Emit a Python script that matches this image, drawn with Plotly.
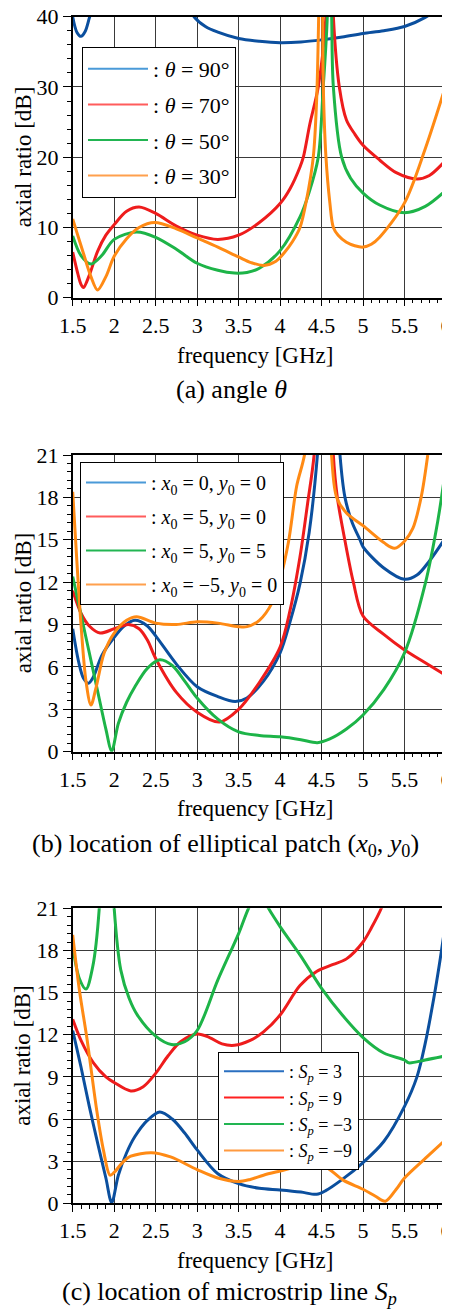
import plotly.graph_objects as go

FONT = "Liberation Serif"

# ---------------- Panel (a): angle theta ----------------
a_t90_x = [1.5, 1.55, 1.6, 1.65, 1.7, 1.8, 2.0, 2.5, 2.8, 2.95, 3.1, 3.25, 3.5, 3.75, 4.0, 4.25, 4.5, 4.75, 5.0, 5.25, 5.5, 5.75, 6.0]
a_t90_y = [40.0, 37.8, 37.2, 37.9, 39.8, 44, 50, 52, 45, 40.2, 38.6, 37.8, 36.9, 36.5, 36.3, 36.4, 36.7, 37.1, 37.6, 38.0, 38.6, 39.9, 42]

a_t70_x = [1.5, 1.56, 1.6, 1.63, 1.7, 1.8, 1.9, 2.0, 2.15, 2.3, 2.5, 2.75, 3.0, 3.25, 3.5, 3.75, 4.0, 4.12, 4.24, 4.28, 4.36, 4.46, 4.553, 4.6, 4.642, 4.714, 4.8, 4.9, 5.0, 5.2, 5.4, 5.65, 5.8, 6.0]
a_t70_y = [6.5, 3.5, 1.9, 1.45, 3.2, 6.6, 8.9, 10.4, 12.3, 12.9, 12.0, 10.2, 8.9, 8.3, 8.9, 10.7, 13.4, 15.5, 18.6, 20.0, 24.8, 30.0, 40.0, 60.0, 40.0, 30.0, 25.3, 23.3, 21.7, 19.6, 17.8, 16.9, 17.4, 19.6]

a_t50_x = [1.5, 1.6, 1.72, 1.85, 2.0, 2.27, 2.5, 2.75, 3.0, 3.25, 3.45, 3.6, 3.75, 4.0, 4.24, 4.35, 4.46, 4.52, 4.569, 4.595, 4.622, 4.642, 4.742, 4.85, 5.0, 5.2, 5.5, 5.75, 6.0]
a_t50_y = [8.8, 6.0, 4.8, 6.0, 8.3, 9.35, 8.6, 6.9, 4.9, 3.9, 3.5, 3.6, 4.2, 6.7, 11.5, 15.0, 20.0, 30.0, 40.0, 60.0, 40.0, 30.0, 20.0, 17.0, 14.9, 13.2, 12.1, 13.0, 15.3]

a_t30_x = [1.5, 1.55, 1.63, 1.72, 1.8, 1.9, 2.0, 2.15, 2.3, 2.49, 2.75, 3.0, 3.25, 3.5, 3.65, 3.8, 3.95, 4.05, 4.15, 4.24, 4.32, 4.4, 4.44, 4.465, 4.49, 4.513, 4.521, 4.553, 4.6, 4.642, 4.7, 4.8, 4.9, 5.0, 5.1, 5.2, 5.5, 5.75, 6.0]
a_t30_y = [11.2, 9.3, 6.3, 3.0, 1.1, 3.0, 5.9, 8.4, 10.0, 10.7, 9.8, 8.5, 7.2, 5.8, 5.0, 4.6, 5.2, 6.4, 8.0, 10.0, 14.0, 20.0, 28.0, 40.0, 65.0, 40.0, 30.0, 20.0, 13.5, 10.0, 8.9, 7.9, 7.4, 7.2, 7.6, 8.6, 13.5, 21.2, 30.3]

a_names = [": <i>θ</i> = 90°", ": <i>θ</i> = 70°", ": <i>θ</i> = 50°", ": <i>θ</i> = 30°"]

# ---------------- Panel (b): location of elliptical patch ----------------
b_00_x = [1.5, 1.57, 1.63, 1.69, 1.75, 1.85, 2.0, 2.12, 2.25, 2.4, 2.5, 2.75, 3.0, 3.25, 3.46, 3.6, 3.8, 4.0, 4.12, 4.24, 4.35, 4.45, 4.52, 4.6, 4.68, 4.722, 4.782, 4.87, 4.963, 5.0, 5.25, 5.5, 5.65, 5.8, 6.0]
b_00_y = [8.7, 6.4, 5.2, 4.85, 5.3, 6.8, 8.1, 8.9, 9.3, 8.9, 8.2, 6.2, 4.6, 3.9, 3.55, 3.8, 5.0, 7.0, 9.2, 11.9, 15.5, 21.0, 28.0, 40.0, 26.0, 21.0, 18.0, 16.2, 15.0, 14.5, 13.0, 12.2, 12.5, 13.5, 15.2]

b_50_x = [1.5, 1.6, 1.7, 1.83, 2.0, 2.17, 2.3, 2.4, 2.5, 2.75, 3.0, 3.27, 3.5, 3.75, 4.0, 4.12, 4.24, 4.33, 4.41, 4.5, 4.55, 4.6, 4.642, 4.69, 4.78, 4.883, 5.0, 5.25, 5.5, 5.75, 6.0]
b_50_y = [11.4, 9.8, 8.9, 8.4, 8.7, 9.0, 8.7, 7.9, 6.6, 4.2, 2.8, 2.1, 3.0, 4.9, 7.4, 10.0, 13.8, 17.5, 21.0, 30.0, 40.0, 30.0, 21.0, 18.0, 15.0, 12.0, 9.6, 8.3, 7.2, 6.3, 5.4]

b_55_x = [1.5, 1.6, 1.7, 1.8, 1.9, 1.97, 2.05, 2.15, 2.25, 2.4, 2.55, 2.7, 2.85, 3.0, 3.25, 3.5, 3.75, 4.0, 4.25, 4.45, 4.6, 4.8, 5.0, 5.25, 5.5, 5.75, 5.9, 6.0]
b_55_y = [12.4, 9.7, 7.0, 4.3, 1.6, 0.05, 2.0, 3.5, 4.6, 5.9, 6.5, 6.1, 5.0, 3.8, 2.3, 1.4, 1.15, 1.05, 0.85, 0.64, 0.9, 1.6, 2.6, 4.4, 7.0, 11.9, 16.3, 20.2]

b_m50_x = [1.5, 1.55, 1.6, 1.66, 1.72, 1.78, 1.88, 2.0, 2.15, 2.27, 2.5, 2.75, 3.0, 3.25, 3.5, 3.6, 3.75, 3.9, 4.0, 4.1, 4.2, 4.3, 4.38, 4.46, 4.55, 4.62, 4.682, 4.8, 5.0, 5.25, 5.38, 5.5, 5.6, 5.7, 5.78]
b_m50_y = [18.4, 13.5, 9.0, 5.0, 3.3, 4.5, 7.0, 8.4, 9.3, 9.55, 9.1, 9.0, 9.2, 9.1, 8.85, 8.85, 9.3, 10.5, 12.2, 14.8, 18.8, 21.2, 28.0, 40.0, 30.0, 21.0, 18.0, 16.9, 16.0, 14.8, 14.4, 14.9, 15.8, 18.0, 21.0]

b_names = [": <i>x</i><sub>0</sub> = 0, <i>y</i><sub>0</sub> = 0",
           ": <i>x</i><sub>0</sub> = 5, <i>y</i><sub>0</sub> = 0",
           ": <i>x</i><sub>0</sub> = 5, <i>y</i><sub>0</sub> = 5",
           ": <i>x</i><sub>0</sub> = −5, <i>y</i><sub>0</sub> = 0"]

# ---------------- Panel (c): location of microstrip line Sp ----------------
c_p3_x = [1.5, 1.6, 1.7, 1.8, 1.9, 1.97, 2.05, 2.15, 2.25, 2.4, 2.55, 2.7, 2.85, 3.0, 3.25, 3.5, 3.75, 4.0, 4.25, 4.44, 4.55, 4.75, 5.0, 5.25, 5.5, 5.65, 5.75, 5.85, 5.92, 6.0]
c_p3_y = [12.3, 9.7, 6.9, 4.3, 1.8, 0.05, 2.0, 3.6, 4.75, 5.9, 6.5, 6.0, 5.0, 3.8, 2.1, 1.4, 1.07, 0.95, 0.8, 0.64, 0.9, 1.7, 2.9, 4.4, 6.9, 9.0, 11.4, 14.5, 17.0, 20.2]

c_p9_x = [1.5, 1.6, 1.75, 1.9, 2.0, 2.2, 2.35, 2.5, 2.65, 2.8, 3.0, 3.15, 3.3, 3.45, 3.64, 3.8, 4.0, 4.24, 4.44, 4.64, 4.8, 5.0, 5.1, 5.22, 5.3]
c_p9_y = [13.1, 11.6, 10.0, 9.0, 8.6, 8.0, 8.3, 9.25, 10.5, 11.5, 12.05, 11.8, 11.35, 11.25, 11.6, 12.2, 13.4, 15.5, 16.5, 17.0, 17.4, 18.6, 19.6, 21.0, 22.5]

c_m3_x = [1.5, 1.58, 1.66, 1.74, 1.82, 1.86, 1.9, 1.95, 2.0, 2.08, 2.18, 2.28, 2.5, 2.69, 2.85, 3.0, 3.25, 3.5, 3.62, 3.74, 3.86, 4.0, 4.25, 4.5, 4.75, 5.0, 5.25, 5.5, 5.55, 5.75, 6.0]
c_m3_y = [18.3, 16.0, 15.25, 16.8, 21.0, 28.0, 40.0, 28.0, 21.0, 16.6, 14.6, 13.4, 11.9, 11.3, 11.5, 12.3, 15.9, 19.2, 21.0, 22.3, 21.0, 19.7, 17.6, 15.3, 13.4, 11.8, 10.7, 10.2, 10.0, 10.2, 10.5]

c_m9_x = [1.5, 1.58, 1.67, 1.79, 1.87, 1.95, 2.0, 2.1, 2.2, 2.45, 2.68, 3.0, 3.25, 3.5, 3.64, 3.8, 4.0, 4.24, 4.44, 4.55, 4.76, 5.0, 5.15, 5.27, 5.4, 5.5, 5.77, 6.0]
c_m9_y = [19.1, 15.2, 11.8, 6.6, 3.8, 2.0, 2.2, 2.9, 3.35, 3.6, 3.3, 2.4, 1.8, 1.55, 1.7, 2.0, 2.3, 2.65, 2.74, 2.6, 1.65, 1.0, 0.5, 0.15, 1.0, 1.8, 3.3, 4.56]

c_names = [": <i>S<sub>p</sub></i> = 3", ": <i>S<sub>p</sub></i> = 9",
           ": <i>S<sub>p</sub></i> = −3", ": <i>S<sub>p</sub></i> = −9"]

# ---------------- styling ----------------
curve_colors = ["#0b4f9e", "#ee1c1c", "#1db448", "#ff8a14"]
legend_colors = ["#4a9ad8", "#ff5c5c", "#22b552", "#ffa04d"]
legend_colors_c = ["#2a6fc0", "#ff2020", "#22b552", "#ff9a40"]

fig = go.Figure()

panels = [
    ("x", "y", "legend", [(a_t90_x, a_t90_y), (a_t70_x, a_t70_y), (a_t50_x, a_t50_y), (a_t30_x, a_t30_y)], a_names, legend_colors, True),
    ("x2", "y2", "legend2", [(b_00_x, b_00_y), (b_50_x, b_50_y), (b_55_x, b_55_y), (b_m50_x, b_m50_y)], b_names, legend_colors, True),
    ("x3", "y3", "legend3", [(c_p3_x, c_p3_y), (c_p9_x, c_p9_y), (c_m3_x, c_m3_y), (c_m9_x, c_m9_y)], c_names, legend_colors_c, False),
]

for xa, ya, lg, series, names, lcols, grouped in panels:
    for i, (xs, ys) in enumerate(series):
        fig.add_trace(go.Scatter(x=xs, y=ys, mode="lines", xaxis=xa, yaxis=ya,
                                 line=dict(color=curve_colors[i], width=3, shape="spline", smoothing=0.9),
                                 showlegend=False, hoverinfo="skip"))
    for i, nm in enumerate(names):
        kw = dict(legendgroup=lg + str(i)) if grouped else {}
        fig.add_trace(go.Scatter(x=[None], y=[None], mode="lines", xaxis=xa, yaxis=ya,
                                 name=nm, legend=lg, line=dict(color=lcols[i], width=2),
                                 showlegend=True, **kw))

# page body has an 8px margin: work in screen pixels and shift
OFF = 8
W, H = 450 - OFF, 1312 - OFF
x0p, x1p = 72.7 - OFF, 446.0 - OFF
plot_px = [(16.7 - OFF, 297.7 - OFF), (455.0 - OFF, 751.7 - OFF), (908.3 - OFF, 1203.3 - OFF)]


def ydom(top, bot):
    return [1 - bot / H, 1 - top / H]


def px(v):
    return (v - OFF) / W


def py(v):
    return 1 - (v - OFF) / H


common_x = dict(range=[1.5, 6], dtick=0.5, tick0=1.5, domain=[x0p / W, x1p / W],
                showgrid=True, gridcolor="#3a3a3a", gridwidth=1,
                showline=True, linecolor="black", linewidth=1.5, mirror=True,
                ticks="outside", ticklen=7, tickwidth=1.2, tickcolor="black",
                minor=dict(dtick=0.1, ticks="outside", ticklen=4, tickwidth=1, tickcolor="black", showgrid=False),
                zeroline=False, automargin=False, ticklabeloverflow="allow",
                tickfont=dict(family=FONT, size=22, color="black"))
common_y = dict(showgrid=True, gridcolor="#3a3a3a", gridwidth=1,
                showline=True, linecolor="black", linewidth=1.5, mirror=True,
                ticks="outside", ticklen=8, tickwidth=1.2, tickcolor="black",
                zeroline=False, automargin=False, ticklabeloverflow="allow",
                tickfont=dict(family=FONT, size=22, color="black"))

leg_common = dict(xanchor="left", yanchor="top", bgcolor="white", bordercolor="black", borderwidth=1, itemwidth=60)

layout = dict(
    width=W, height=H, margin=dict(l=0, r=0, t=0, b=0),
    paper_bgcolor="white", plot_bgcolor="white",
    xaxis=dict(common_x, anchor="y"),
    xaxis2=dict(common_x, anchor="y2"),
    xaxis3=dict(common_x, anchor="y3"),
    yaxis=dict(common_y, anchor="x", domain=ydom(*plot_px[0]), range=[0, 40], dtick=10,
               minor=dict(dtick=2, ticks="outside", ticklen=4, tickwidth=1, tickcolor="black", showgrid=False)),
    yaxis2=dict(common_y, anchor="x2", domain=ydom(*plot_px[1]), range=[0, 21], dtick=3,
                minor=dict(dtick=0.6, ticks="outside", ticklen=4, tickwidth=1, tickcolor="black", showgrid=False)),
    yaxis3=dict(common_y, anchor="x3", domain=ydom(*plot_px[2]), range=[0, 21], dtick=3,
                minor=dict(dtick=0.6, ticks="outside", ticklen=4, tickwidth=1, tickcolor="black", showgrid=False)),
    legend=dict(leg_common, x=px(82), y=py(47), font=dict(family=FONT, size=22, color="black"), tracegroupgap=4),
    legend2=dict(leg_common, x=px(80), y=py(462), font=dict(family=FONT, size=20, color="black"), tracegroupgap=5),
    legend3=dict(leg_common, x=px(218), y=py(1052), font=dict(family=FONT, size=18, color="black")),
)
fig.update_layout(**layout)

ann_font = dict(family=FONT, size=23, color="black")
cap_font = dict(family=FONT, size=26, color="black")
annotations = []
for (top, bot), xt_y in zip(plot_px, [355, 808, 1260]):
    annotations.append(dict(text="frequency [GHz]", x=px(255), y=py(xt_y), xref="paper", yref="paper",
                            showarrow=False, font=ann_font, xanchor="center", yanchor="middle"))
    annotations.append(dict(text="axial ratio [dB]", x=px(23), y=1 - (top + bot) / 2 / H, xref="paper", yref="paper",
                            showarrow=False, font=ann_font, textangle=-90, xanchor="center", yanchor="middle"))
captions = [("(a) angle <i>θ</i>", 231, 390),
            ("(b) location of elliptical patch (<i>x</i><sub>0</sub>, <i>y</i><sub>0</sub>)", 225, 845),
            ("(c) location of microstrip line <i>S<sub>p</sub></i>", 229, 1293)]
for txt, cx, cy in captions:
    annotations.append(dict(text=txt, x=px(cx), y=py(cy), xref="paper", yref="paper",
                            showarrow=False, font=cap_font, xanchor="center", yanchor="middle"))
fig.update_layout(annotations=annotations)

fig.write_html("out.html")
